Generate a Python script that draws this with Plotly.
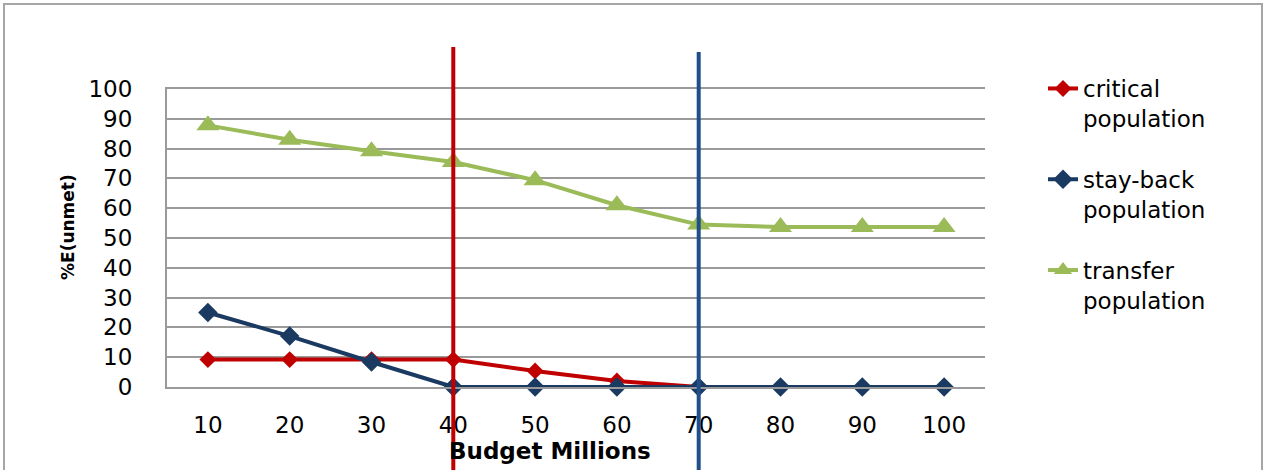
import plotly.graph_objects as go

# Budget levels (millions) and unmet-demand percentages per population group
budget = [10, 20, 30, 40, 50, 60, 70, 80, 90, 100]
critical = [9.2, 9.2, 9.2, 9.2, 5.4, 2.0, 0, 0, 0, 0]
stay_back = [25.0, 17.1, 8.4, 0, 0, 0, 0, 0, 0, 0]
transfer = [87.8, 83.0, 79.1, 75.5, 69.4, 61.0, 54.5, 53.7, 53.7, 53.7]

y_ticks = [0, 10, 20, 30, 40, 50, 60, 70, 80, 90, 100]
cutoff_red = 40
cutoff_blue = 70

# plot-area geometry in pixels (used to place decorations in paper units)
L, R, T, B = 167, 985, 89, 387
W_FIG, H_FIG = 1265, 470


def px_x(p):
    return (p - L) / (R - L)


def px_y(p):
    return (B - p) / (B - T)


RED = "#C00000"
NAVY = "#1B3A62"
GREEN = "#9BBB59"
GRID = "#9A9A9A"
FONT = "DejaVu Sans"

fig = go.Figure()

fig.add_trace(go.Scatter(
    x=budget, y=critical, name="critical<br>population",
    mode="lines+markers", cliponaxis=False,
    line=dict(color=RED, width=4),
    marker=dict(symbol="diamond", size=13, color=RED),
    legendgroup="a",
))
fig.add_trace(go.Scatter(
    x=budget, y=stay_back, name="stay-back<br>population",
    mode="lines+markers", cliponaxis=False,
    line=dict(color=NAVY, width=4),
    marker=dict(symbol="diamond", size=15, color=NAVY),
    legendgroup="b",
))
fig.add_trace(go.Scatter(
    x=budget, y=transfer, name="transfer<br>population",
    mode="lines+markers", cliponaxis=False,
    line=dict(color=GREEN, width=4),
    marker=dict(symbol="triangle-up", size=20, color=GREEN),
    legendgroup="c",
))

shapes = [
    # outer chart border
    dict(type="rect", xref="paper", yref="paper",
         x0=px_x(4), x1=px_x(1262), y0=px_y(480), y1=px_y(4),
         line=dict(color="#A6A6A6", width=2), fillcolor="rgba(0,0,0,0)",
         layer="below"),
    # budget cut-off markers
    dict(type="line", xref="x", yref="paper",
         x0=cutoff_red, x1=cutoff_red, y0=px_y(480), y1=px_y(47),
         line=dict(color=RED, width=4), layer="above"),
    dict(type="line", xref="x", yref="paper",
         x0=cutoff_blue, x1=cutoff_blue, y0=px_y(480), y1=px_y(52),
         line=dict(color="#1F4E8A", width=4), layer="above"),
]

annotations = [
    dict(text="<b>Budget Millions</b>", xref="paper", yref="paper",
         x=px_x(550), y=px_y(451), xanchor="center", yanchor="middle",
         showarrow=False,
         font=dict(family=FONT, size=23, color="#000000")),
    dict(text="<b>%E(unmet)</b>", xref="paper", yref="paper",
         x=px_x(68), y=px_y(227), xanchor="center", yanchor="middle",
         showarrow=False, textangle=-90,
         font=dict(family=FONT, size=17, color="#000000")),
]

fig.update_layout(
    width=W_FIG, height=H_FIG, autosize=False,
    margin=dict(l=L, r=W_FIG - R, t=T, b=H_FIG - B, pad=0),
    paper_bgcolor="white", plot_bgcolor="white",
    font=dict(family=FONT, size=23, color="#000000"),
    showlegend=True,
    legend=dict(
        xref="container", yref="container",
        x=1043 / W_FIG, y=1 - 67 / H_FIG, xanchor="left", yanchor="top",
        maxheight=1,
        valign="top", traceorder="grouped", tracegroupgap=28,
        font=dict(family=FONT, size=23, color="#000000"),
        bgcolor="rgba(0,0,0,0)",
    ),
    shapes=shapes,
    annotations=annotations,
)

fig.update_xaxes(
    range=[5, 105], tickvals=budget, ticktext=[str(b) for b in budget],
    showgrid=False, zeroline=False,
    showline=True, mirror=True, linecolor=GRID, linewidth=2, ticks="",
    ticklabelstandoff=16,
    tickfont=dict(family=FONT, size=23, color="#000000"),
)
fig.update_yaxes(
    range=[0, 100], tickvals=y_ticks, ticktext=[str(v) for v in y_ticks],
    showgrid=True, gridcolor=GRID, gridwidth=2,
    zeroline=False, showline=True, linecolor=GRID, linewidth=2, ticks="",
    ticklabelstandoff=28,
    tickfont=dict(family=FONT, size=23, color="#000000"),
)

fig.write_html("out.html")
